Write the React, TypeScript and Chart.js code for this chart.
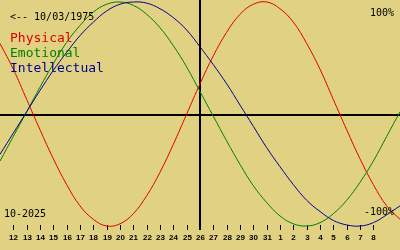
import React, { useEffect, useRef } from "react";
import { Chart, registerables } from "chart.js";

Chart.register(...registerables);

// Day of month (Oct 11 .. Nov 10 expressed as 11..41)
const days = [11, 12, 13, 14, 15, 16, 17, 18, 19, 20, 21, 22, 23, 24, 25, 26, 27, 28, 29, 30, 31, 32, 33, 34, 35, 36, 37, 38, 39, 40, 41];
const physical = [63, 40, 13, -14, -40, -63, -82, -94, -100, -98, -89, -73, -52, -27, 0, 27, 52, 73, 89, 98, 100, 94, 82, 63, 40, 13, -14, -40, -63, -82, -94];
const emotional = [-42, -20, 2, 24, 45, 64, 79, 91, 98, 100, 97, 89, 77, 61, 42, 20, -2, -24, -45, -64, -79, -91, -98, -100, -97, -89, -77, -61, -42, -20, 2];
const intellectual = [-36, -17, 2, 21, 39, 55, 70, 82, 92, 98, 100, 99, 94, 86, 75, 60, 44, 27, 8, -11, -30, -47, -63, -77, -87, -95, -99, -100, -97, -90, -82];

const tickDays = [12, 13, 14, 15, 16, 17, 18, 19, 20, 21, 22, 23, 24, 25, 26, 27, 28, 29, 30, 31, 32, 33, 34, 35, 36, 37, 38, 39];
const tickLabels = ["12", "13", "14", "15", "16", "17", "18", "19", "20", "21", "22", "23", "24", "25", "26", "27", "28", "29", "30", "31", "1", "2", "3", "4", "5", "6", "7", "8"];
const today = 26;

const seriesNames = ["Physical", "Emotional", "Intellectual"];
const seriesColors = ["#e00000", "#008000", "#000090"];
const birthText = "<-- 10/03/1975";
const monthText = "10-2025";
const topText = "100%";
const bottomText = "-100%";

const BG = "#e1d183";

export default function App() {
  const ref = useRef<HTMLCanvasElement | null>(null);

  useEffect(() => {
    document.body.style.margin = "0";
    const canvas = ref.current!;
    const mk = (vals: number[]) => days.map((d, i) => ({ x: d, y: vals[i] }));

    const overlay = {
      id: "overlay",
      beforeDatasetsDraw(chart: any) {
        const { ctx, scales } = chart;
        const xs = scales.x;
        const ys = scales.y;
        ctx.save();
        ctx.strokeStyle = "#000";
        ctx.lineWidth = 2;
        const y0 = Math.round(ys.getPixelForValue(0)) + 1;
        ctx.beginPath();
        ctx.moveTo(0, y0);
        ctx.lineTo(400, y0);
        ctx.stroke();
        const xt = Math.round(xs.getPixelForValue(today));
        ctx.beginPath();
        ctx.moveTo(xt, 0);
        ctx.lineTo(xt, 230);
        ctx.stroke();
        ctx.fillStyle = "#000";
        tickDays.forEach((d, i) => {
          const x = Math.round(xs.getPixelForValue(d));
          ctx.fillRect(x, 225, 1, 5);
          ctx.font = "bold 8px 'Liberation Sans'";
          ctx.textAlign = "center";
          ctx.textBaseline = "alphabetic";
          ctx.fillText(tickLabels[i], x + 0.5, 240);
        });
        ctx.restore();
      },
      afterDatasetsDraw(chart: any) {
        const { ctx } = chart;
        ctx.save();
        ctx.textBaseline = "alphabetic";
        ctx.fillStyle = "#000";
        ctx.font = "10px 'DejaVu Sans Mono'";
        ctx.textAlign = "left";
        ctx.fillText(birthText, 10, 20);
        ctx.fillText(monthText, 4, 217);
        ctx.textAlign = "right";
        ctx.fillText(topText, 394, 16);
        ctx.fillText(bottomText, 394, 215);
        ctx.font = "13px 'DejaVu Sans Mono'";
        ctx.textAlign = "left";
        seriesNames.forEach((n, i) => {
          ctx.fillStyle = seriesColors[i];
          ctx.fillText(n, 10, 42 + i * 15);
        });
        ctx.restore();
      },
    };

    const chart = new Chart(canvas, {
      type: "line",
      data: {
        datasets: [
          { label: seriesNames[2], data: mk(intellectual), borderColor: seriesColors[2], borderWidth: 1, pointRadius: 0, tension: 0.4, fill: false },
          { label: seriesNames[1], data: mk(emotional), borderColor: seriesColors[1], borderWidth: 1, pointRadius: 0, tension: 0.4, fill: false },
          { label: seriesNames[0], data: mk(physical), borderColor: seriesColors[0], borderWidth: 1, pointRadius: 0, tension: 0.4, fill: false },
        ],
      },
      options: {
        responsive: false,
        animation: false,
        devicePixelRatio: 1,
        layout: { padding: 0 },
        plugins: { legend: { display: false }, tooltip: { enabled: false }, title: { display: false } },
        scales: {
          x: { type: "linear", min: 11, max: 41, display: false },
          y: { type: "linear", min: -121.4, max: 101.79, display: false },
        },
      },
      plugins: [overlay],
    });
    return () => chart.destroy();
  }, []);

  return (
    <div style={{ width: 400, height: 250, background: BG }}>
      <canvas ref={ref} width={400} height={250} style={{ display: "block" }} />
    </div>
  );
}
